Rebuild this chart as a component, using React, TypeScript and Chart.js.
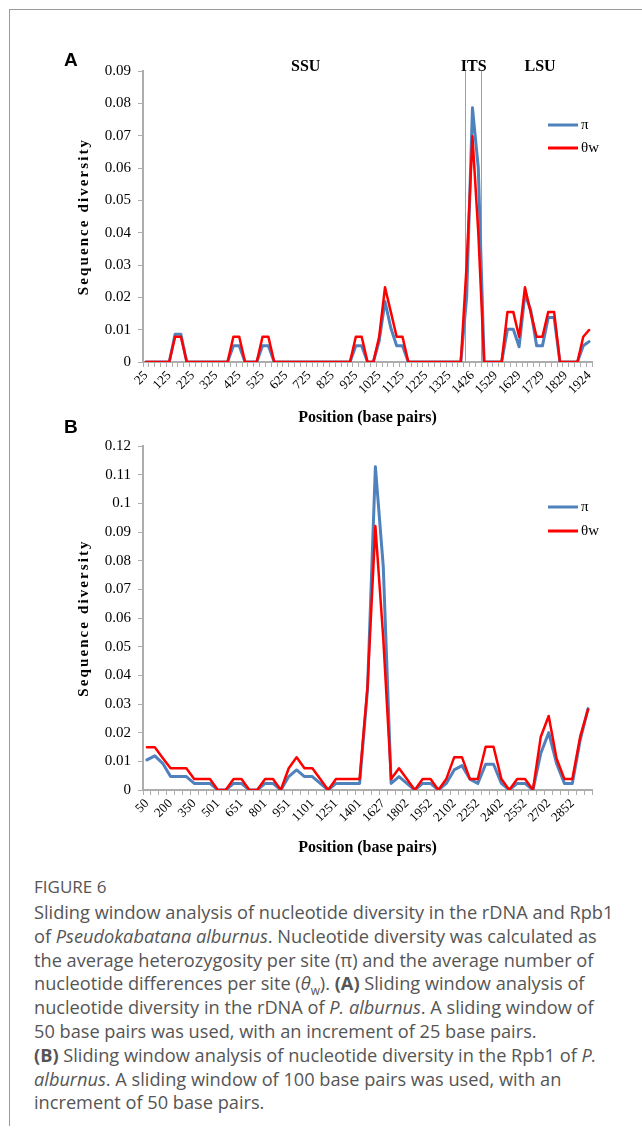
import React, { useEffect, useRef } from "react";
import { Chart, registerables } from "chart.js";

Chart.register(...registerables);

// ---------- DATA ----------
// (A) rDNA, sliding window 50 bp, step 25 bp
const positionsA = [
  "25", "50", "75", "100", "125", "150", "175", "200", "225", "250", "275", "300", "325", "350", "375", "400",
  "425", "450", "475", "500", "525", "550", "575", "600", "625", "650", "675", "700", "725", "750", "775", "800",
  "825", "850", "875", "900", "925", "950", "975", "1000", "1025", "1050", "1075", "1100", "1125", "1150", "1175",
  "1200", "1225", "1250", "1275", "1300", "1325", "1350", "1375", "1400", "1426", "1452", "1478", "1503", "1529",
  "1554", "1579", "1604", "1629", "1654", "1679", "1704", "1729", "1754", "1779", "1804", "1829", "1853", "1877",
  "1900", "1924",
];
const piA = [
  0, 0, 0, 0, 0, 0.0086, 0.0086, 0, 0, 0, 0, 0, 0, 0, 0, 0.005, 0.005, 0, 0, 0, 0.005, 0.005, 0, 0, 0, 0, 0, 0,
  0, 0, 0, 0, 0, 0, 0, 0, 0.005, 0.005, 0, 0, 0.0065, 0.0187, 0.0105, 0.005, 0.005, 0, 0, 0, 0, 0, 0, 0, 0, 0, 0,
  0.02, 0.0786, 0.06, 0, 0, 0, 0, 0.0101, 0.0101, 0.0047, 0.021, 0.016, 0.005, 0.005, 0.0138, 0.0138, 0, 0, 0, 0,
  0.005, 0.0063,
];
const thetaA = [
  0, 0, 0, 0, 0, 0.0078, 0.0078, 0, 0, 0, 0, 0, 0, 0, 0, 0.0078, 0.0078, 0, 0, 0, 0.0078, 0.0078, 0, 0, 0, 0, 0, 0,
  0, 0, 0, 0, 0, 0, 0, 0, 0.0078, 0.0078, 0, 0, 0.0078, 0.0231, 0.0155, 0.0078, 0.0078, 0, 0, 0, 0, 0, 0, 0, 0, 0,
  0, 0.03, 0.0698, 0.04, 0, 0, 0, 0, 0.0155, 0.0155, 0.0078, 0.0231, 0.0152, 0.0078, 0.0078, 0.0155, 0.0155, 0, 0,
  0, 0, 0.0078, 0.0099,
];
const regionNamesA = ["SSU", "ITS", "LSU"];
const regionCentersA = [27.4, 56.2, 67.6]; // in category-index units
const itsBoundsA = [54.75, 57.5]; // in category-index units

// (B) Rpb1, sliding window 100 bp, step 50 bp
const positionsB = [
  "50", "100", "150", "200", "250", "300", "350", "400", "450", "501", "551", "601", "651", "701", "751", "801",
  "851", "901", "951", "1001", "1051", "1101", "1151", "1201", "1251", "1301", "1351", "1401", "1476", "1552",
  "1627", "1685", "1744", "1802", "1852", "1902", "1952", "2002", "2052", "2102", "2152", "2202", "2252", "2302",
  "2352", "2402", "2452", "2502", "2552", "2602", "2652", "2702", "2752", "2802", "2852", "2902", "2952",
];
const piB = [
  0.0105, 0.0119, 0.0093, 0.0047, 0.0047, 0.0047, 0.0023, 0.0023, 0.0023, 0, 0, 0.0023, 0.0023, 0, 0, 0.0023,
  0.0023, 0, 0.0047, 0.007, 0.0047, 0.0047, 0.0023, 0, 0.0023, 0.0023, 0.0023, 0.0023, 0.035, 0.1128, 0.078,
  0.0023, 0.0047, 0.0023, 0, 0.0023, 0.0023, 0, 0.0023, 0.007, 0.0085, 0.0038, 0.0023, 0.009, 0.009, 0.0023, 0,
  0.0023, 0.0023, 0, 0.0128, 0.02, 0.0093, 0.0023, 0.0023, 0.0174, 0.0284,
];
const thetaB = [
  0.0149, 0.0149, 0.0112, 0.0076, 0.0076, 0.0076, 0.0038, 0.0038, 0.0038, 0, 0, 0.0038, 0.0038, 0, 0, 0.0038,
  0.0038, 0, 0.0076, 0.0114, 0.0076, 0.0076, 0.0038, 0, 0.0038, 0.0038, 0.0038, 0.0038, 0.036, 0.0921, 0.053,
  0.0038, 0.0076, 0.0038, 0, 0.0038, 0.0038, 0, 0.0038, 0.0114, 0.0114, 0.0038, 0.0038, 0.0151, 0.0151, 0.0038, 0,
  0.0038, 0.0038, 0, 0.0186, 0.0258, 0.011, 0.0038, 0.0038, 0.0186, 0.0281,
];

const seriesNames = ["π", "θw"];

// ---------- STYLE ----------
const SERIF = '"Liberation Serif", "Times New Roman", serif';
const BLUE = "#4F81BD";
const RED = "#FF0000";
const AXIS = "#ADADAD";

type PanelCfg = {
  labels: string[];
  pi: number[];
  theta: number[];
  labelEvery: number;
  yMax: number;
  canvasTop: number;
  canvasHeight: number;
  padTop: number;
  xAxisHeight: number;
  legendOffsets: number[];
  regions?: { names: string[]; centers: number[]; bounds: number[] };
};

function makeDecor(cfg: PanelCfg) {
  return {
    id: "decor",
    beforeDatasetsDraw(chart: any) {
      if (!cfg.regions) return;
      const { ctx, chartArea } = chart;
      const xs = chart.scales.x;
      ctx.save();
      ctx.strokeStyle = "#A0A0A0";
      ctx.lineWidth = 1;
      cfg.regions.bounds.forEach((b) => {
        const px = Math.round(xs.getPixelForValue(b)) + 0.5;
        ctx.beginPath();
        ctx.moveTo(px, chartArea.top);
        ctx.lineTo(px, chartArea.bottom);
        ctx.stroke();
      });
      ctx.restore();
    },
    afterDraw(chart: any) {
      const { ctx, chartArea } = chart;
      const xs = chart.scales.x;
      ctx.save();
      // y-axis title with letter spacing
      ctx.fillStyle = "#000";
      ctx.font = `bold 15px ${SERIF}`;
      (ctx as any).letterSpacing = "2.1px";
      ctx.textAlign = "center";
      ctx.textBaseline = "middle";
      ctx.translate(84, (chartArea.top + chartArea.bottom) / 2);
      ctx.rotate(-Math.PI / 2);
      ctx.fillText("Sequence diversity", 0, 0);
      ctx.restore();

      ctx.save();
      (ctx as any).letterSpacing = "0px";
      // region labels
      if (cfg.regions) {
        ctx.fillStyle = "#000";
        ctx.font = `bold 16px ${SERIF}`;
        ctx.textAlign = "center";
        ctx.textBaseline = "middle";
        cfg.regions.names.forEach((n, i) => {
          ctx.fillText(n, xs.getPixelForValue(cfg.regions!.centers[i]), chartArea.top - 4);
        });
      }
      // legend
      const lx = 548;
      chart.data.datasets.forEach((ds: any, i: number) => {
        const y = chartArea.top + cfg.legendOffsets[i];
        ctx.strokeStyle = ds.borderColor;
        ctx.lineWidth = 3;
        ctx.beginPath();
        ctx.moveTo(lx, y);
        ctx.lineTo(lx + 30, y);
        ctx.stroke();
        ctx.fillStyle = "#000";
        ctx.font = `15px ${SERIF}`;
        ctx.textAlign = "left";
        ctx.textBaseline = "middle";
        ctx.fillText(ds.label, lx + 33, y);
      });
      ctx.restore();
    },
  };
}

function Panel({ cfg }: { cfg: PanelCfg }) {
  const ref = useRef<HTMLCanvasElement>(null);
  useEffect(() => {
    if (!ref.current) return;
    const chart = new Chart(ref.current, {
      type: "line",
      data: {
        labels: cfg.labels,
        datasets: [
          {
            label: seriesNames[0],
            data: cfg.pi,
            borderColor: BLUE,
            backgroundColor: BLUE,
            borderWidth: 3,
            order: 1,
          },
          {
            label: seriesNames[1],
            data: cfg.theta,
            borderColor: RED,
            backgroundColor: RED,
            borderWidth: 2.5,
            order: 0,
          },
        ],
      },
      options: {
        responsive: false,
        animation: false,
        devicePixelRatio: 1,
        layout: { padding: { left: 0, right: 50, top: cfg.padTop, bottom: 0 } },
        elements: {
          point: { radius: 0, hoverRadius: 0 },
          line: { tension: 0, borderJoinStyle: "round", borderCapStyle: "round" },
        },
        plugins: { legend: { display: false }, tooltip: { enabled: false } },
        scales: {
          x: {
            type: "category",
            offset: true,
            grid: {
              offset: true,
              drawOnChartArea: false,
              drawTicks: true,
              tickLength: 5,
              color: AXIS,
              lineWidth: 1,
            },
            border: { color: AXIS, width: 2 },
            ticks: {
              autoSkip: false,
              minRotation: 45,
              maxRotation: 45,
              padding: 1,
              color: "#000",
              font: { family: SERIF, size: 13 },
              callback: (_v: any, i: number) => (i % cfg.labelEvery === 0 ? cfg.labels[i] : ""),
            },
            title: {
              display: true,
              text: "Position (base pairs)",
              color: "#000",
              font: { family: SERIF, size: 16, weight: "bold" },
              padding: { top: 0, bottom: 13 },
            },
            afterFit: (s: any) => {
              s.height = cfg.xAxisHeight;
            },
          },
          y: {
            min: 0,
            max: cfg.yMax,
            grid: { drawOnChartArea: false, drawTicks: true, tickLength: 5, color: AXIS },
            border: { color: AXIS, width: 2 },
            ticks: {
              stepSize: 0.01,
              padding: 7,
              color: "#000",
              font: { family: SERIF, size: 15 },
              callback: (v: any) => String(Number(Number(v).toFixed(2))),
            },
            afterFit: (s: any) => {
              s.width = 143;
            },
          },
        },
      } as any,
      plugins: [makeDecor(cfg)],
    });
    return () => chart.destroy();
  }, []);
  return (
    <canvas
      ref={ref}
      width={642}
      height={cfg.canvasHeight}
      style={{ position: "absolute", left: 0, top: cfg.canvasTop, width: 642, height: cfg.canvasHeight }}
    />
  );
}

const panelA: PanelCfg = {
  labels: positionsA,
  pi: piA,
  theta: thetaA,
  labelEvery: 4,
  yMax: 0.09,
  canvasTop: 0,
  canvasHeight: 440,
  padTop: 71,
  xAxisHeight: 78,
  legendOffsets: [54, 77],
  regions: { names: regionNamesA, centers: regionCentersA, bounds: itsBoundsA },
};

const panelB: PanelCfg = {
  labels: positionsB,
  pi: piB,
  theta: thetaB,
  labelEvery: 3,
  yMax: 0.12,
  canvasTop: 430,
  canvasHeight: 440,
  padTop: 16,
  xAxisHeight: 80,
  legendOffsets: [61, 85],
};

const panelLetter: React.CSSProperties = {
  position: "absolute",
  fontFamily: '"Liberation Sans", Arial, sans-serif',
  fontWeight: "bold",
  fontSize: 19,
  lineHeight: "19px",
  color: "#000",
};

export default function App() {
  return (
    <div style={{ position: "absolute", left: 0, top: 0, width: 642, height: 1135, background: "#fff" }}>
      <div
        style={{
          position: "absolute",
          left: 9,
          top: 9,
          width: 633,
          height: 1116,
          borderTop: "1px solid #9A9A9A",
          borderLeft: "1px solid #9A9A9A",
        }}
      />
      <Panel cfg={panelA} />
      <Panel cfg={panelB} />
      <div style={{ ...panelLetter, left: 64, top: 50 }}>A</div>
      <div style={{ ...panelLetter, left: 64, top: 417 }}>B</div>
      <div
        style={{
          position: "absolute",
          left: 34,
          top: 877,
          width: 608,
          fontFamily: '"Open Sans", "Noto Sans", sans-serif',
          color: "#555",
        }}
      >
        <div style={{ fontSize: 17, lineHeight: "20px" }}>FIGURE 6</div>
        <div style={{ fontSize: 18.2, lineHeight: "23.8px", marginTop: 4, whiteSpace: "nowrap" }}>
          Sliding window analysis of nucleotide diversity in the rDNA and Rpb1
          <br />
          of <i>Pseudokabatana alburnus</i>. Nucleotide diversity was calculated as
          <br />
          the average heterozygosity per site (π) and the average number of
          <br />
          nucleotide differences per site (<i>θ</i>
          <sub style={{ fontSize: "0.65em", lineHeight: 0 }}>w</sub>). <b>(A)</b> Sliding window analysis of
          <br />
          nucleotide diversity in the rDNA of <i>P. alburnus</i>. A sliding window of
          <br />
          50 base pairs was used, with an increment of 25 base pairs.
          <br />
          <b>(B)</b> Sliding window analysis of nucleotide diversity in the Rpb1 of <i>P.</i>
          <br />
          <i>alburnus</i>. A sliding window of 100 base pairs was used, with an
          <br />
          increment of 50 base pairs.
        </div>
      </div>
    </div>
  );
}
